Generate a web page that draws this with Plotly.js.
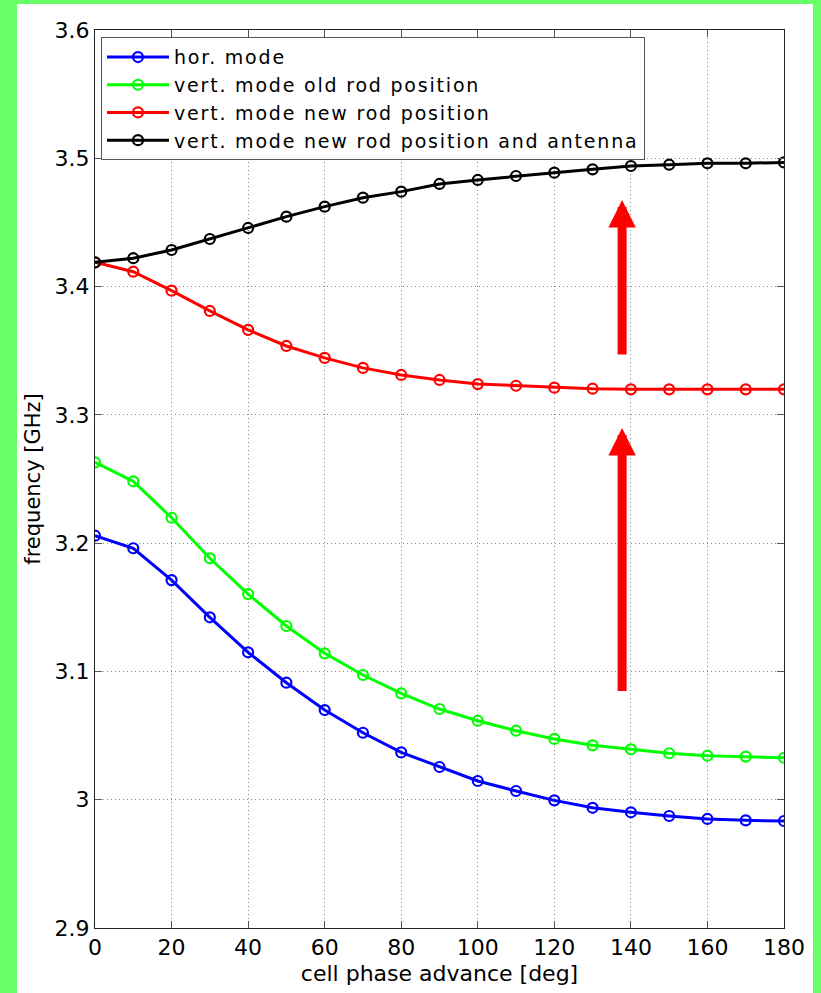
<!DOCTYPE html>
<html>
<head>
<meta charset="utf-8">
<script src="https://cdn.plot.ly/plotly-3.0.1.min.js"></script>
<style>
  html, body { margin: 0; padding: 0; background: #66ff66; width: 821px; height: 993px; overflow: hidden; }
  #chart { position: absolute; left: 17px; top: 4px; width: 796px; height: 989px; background: #ffffff; }
  .legendtext { letter-spacing: 1.8px; }
</style>
</head>
<body>
<div id="chart"></div>
<script>
// cell phase advance [deg]
const phase = [0, 10, 20, 30, 40, 50, 60, 70, 80, 90, 100, 110, 120, 130, 140, 150, 160, 170, 180];

// frequency [GHz]
const horMode = [3.2058, 3.1960, 3.1712, 3.1422, 3.1149, 3.0912, 3.0699, 3.0522, 3.0369, 3.0255,
                 3.0146, 3.0068, 2.9995, 2.9937, 2.9902, 2.9873, 2.9850, 2.9839, 2.9834];
const vertOld = [3.2630, 3.2482, 3.2198, 3.1882, 3.1603, 3.1354, 3.1141, 3.0972, 3.0829, 3.0707,
                 3.0616, 3.0538, 3.0474, 3.0424, 3.0393, 3.0362, 3.0343, 3.0336, 3.0327];
const vertNew = [3.4189, 3.4116, 3.3968, 3.3810, 3.3662, 3.3537, 3.3444, 3.3366, 3.3311, 3.3272,
                 3.3240, 3.3227, 3.3212, 3.3204, 3.3199, 3.3199, 3.3199, 3.3199, 3.3199];
const vertNewAnt = [3.4189, 3.4221, 3.4285, 3.4371, 3.4457, 3.4545, 3.4623, 3.4693, 3.4740, 3.4800,
                    3.4831, 3.4862, 3.4888, 3.4914, 3.4940, 3.4950, 3.4961, 3.4961, 3.4968];

const seriesNames = ['hor. mode', 'vert. mode old rod position', 'vert. mode new rod position', 'vert. mode new rod position and antenna'];
const seriesColors = ['#0000ff', '#00ff00', '#ff0000', '#000000'];
const seriesData = [horMode, vertOld, vertNew, vertNewAnt];

// arrows: x position, tail frequency, tip frequency
const arrowX = [137.7, 137.7];
const arrowTail = [3.3459, 3.0835];
const arrowTip = [3.4675, 3.2898];

const xTicks = [0, 20, 40, 60, 80, 100, 120, 140, 160, 180];
const yTicks = [2.9, 3.0, 3.1, 3.2, 3.3, 3.4, 3.5, 3.6];
const yTickText = ['2.9', '3', '3.1', '3.2', '3.3', '3.4', '3.5', '3.6'];

const FONT = 'DejaVu Sans, Arial, sans-serif';

const traces = seriesData.map((ys, i) => ({
  type: 'scatter',
  mode: 'lines+markers',
  x: phase,
  y: ys,
  name: seriesNames[i],
  line: { color: seriesColors[i], width: 3 },
  marker: { symbol: 'circle-open', size: 10, color: seriesColors[i], line: { width: 2.2, color: seriesColors[i] } }
}));

const annotations = arrowX.map((x, i) => ({
  x: x, y: arrowTip[i], xref: 'x', yref: 'y',
  ax: x, ay: arrowTail[i], axref: 'x', ayref: 'y',
  text: '', showarrow: true,
  arrowhead: 2, arrowsize: 0.61, arrowwidth: 9, arrowcolor: '#ff0000', standoff: 0
}));

const axisFont = { family: FONT, size: 22, color: '#000000' };

const layout = {
  width: 796, height: 989,
  margin: { l: 78, r: 29, t: 26, b: 65 },
  paper_bgcolor: '#ffffff',
  plot_bgcolor: '#ffffff',
  showlegend: true,
  legend: {
    x: 0.0087, y: 0.992, xanchor: 'left', yanchor: 'top',
    bgcolor: '#ffffff', bordercolor: '#555555', borderwidth: 1,
    font: { family: FONT, size: 19, color: '#000000' },
    itemwidth: 62,
    tracegroupgap: 0
  },
  xaxis: {
    range: [0, 180], tickvals: xTicks, ticktext: xTicks.map(String),
    showline: true, linecolor: '#222222', linewidth: 1, mirror: 'ticks',
    ticks: 'inside', ticklen: 7, tickcolor: '#555555',
    showgrid: true, gridcolor: '#888888', griddash: '1px,3px', gridwidth: 1,
    zeroline: false, tickfont: axisFont,
    title: { text: 'cell phase advance [deg]', font: { family: FONT, size: 22, color: '#000000' }, standoff: 6 }
  },
  yaxis: {
    range: [2.9, 3.6], tickvals: yTicks, ticktext: yTickText,
    showline: true, linecolor: '#222222', linewidth: 1, mirror: 'ticks',
    ticks: 'inside', ticklen: 7, tickcolor: '#555555',
    showgrid: true, gridcolor: '#888888', griddash: '1px,3px', gridwidth: 1,
    zeroline: false, tickfont: axisFont,
    title: { text: 'frequency [GHz]', font: { family: FONT, size: 21, color: '#000000' }, standoff: 8 }
  },
  annotations: annotations
};

Plotly.newPlot('chart', traces, layout, { displayModeBar: false, staticPlot: true });
</script>
</body>
</html>
